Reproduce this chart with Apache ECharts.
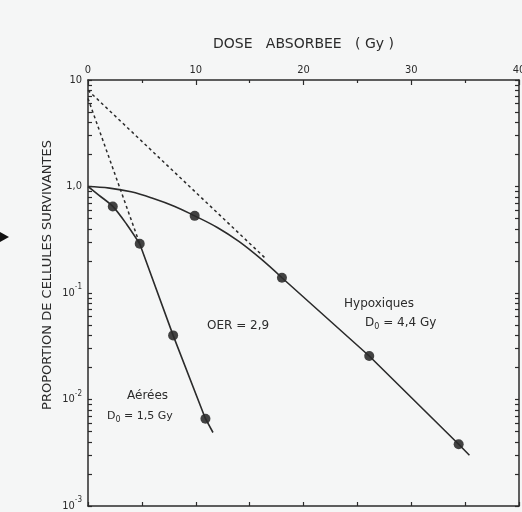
<!DOCTYPE html>
<html>
<head>
<meta charset="utf-8">
<script src="https://cdn.jsdelivr.net/npm/echarts@6/dist/echarts.min.js"></script>
<style>
  html, body { margin: 0; padding: 0; background: #f5f6f6; }
  #chart { width: 522px; height: 512px; }
</style>
</head>
<body>
<div id="chart"></div>
<script>
// points mesurés (cellules aérées)
const aereesDose = [2.3, 4.8, 7.9, 10.9]
const aereesSurvie = [0.65, 0.29, 0.04, 0.0066]
// points mesurés (cellules hypoxiques)
const hypoxDose = [9.9, 18.0, 26.1, 34.4]
const hypoxSurvie = [0.53, 0.139, 0.0256, 0.0038]

// courbes tracées: épaule puis partie droite
const aereesEpauleDose = [0, 1, 2.3, 3.6, 4.8]
const aereesEpauleSurvie = [1.0, 0.83, 0.65, 0.44, 0.29]
const aereesDroiteDose = [4.8, 7.9, 10.9, 11.6]
const aereesDroiteSurvie = [0.29, 0.04, 0.0066, 0.0049]
const hypoxEpauleDose = [0, 2, 4, 6, 8, 9.9, 12, 14, 16, 18]
const hypoxEpauleSurvie = [1.0, 0.966, 0.891, 0.776, 0.653, 0.53, 0.412, 0.305, 0.211, 0.139]
const hypoxDroiteDose = [18.0, 26.1, 34.4, 35.4]
const hypoxDroiteSurvie = [0.139, 0.0256, 0.0038, 0.003]

// extrapolations en pointillé
const aereesExtraDose = [0, 4.8]
const aereesExtraSurvie = [6.7, 0.29]
const hypoxExtraDose = [0, 16.5]
const hypoxExtraSurvie = [8.0, 0.21]

// graduations
const doseTicks = [0, 10, 20, 30, 40]
const survieDecades = [0.001, 0.01, 0.1, 1, 10]
const survieLabels = ['10{sup|-3}', '10{sup|-2}', '10{sup|-1}', '1,0', '10']
const survieMinor = [2, 3, 4, 5, 6, 7, 8, 9]

const zip = (xs, ys) => xs.map((x, i) => [x, ys[i]])

// toutes les graduations logarithmiques (décades + 2..9)
const logTicks = []
survieDecades.forEach(d => {
  logTicks.push(d)
  if (d < 10) survieMinor.forEach(m => logTicks.push(+(d * m).toPrecision(3)))
})

const ink = '#2b2b2b'
const font = "'DejaVu Sans', sans-serif"
const fontCond = "'DejaVu Sans Condensed', 'DejaVu Sans', sans-serif"

const chart = echarts.init(document.getElementById('chart'))

const courbe = (name, data, smooth) => ({
  name,
  type: 'line',
  data,
  symbol: 'none',
  smooth,
  lineStyle: { color: ink, width: 1.6 }
})

const pointille = (name, data) => ({
  name,
  type: 'line',
  data,
  symbol: 'none',
  lineStyle: { color: ink, width: 1.5, type: [3, 3] }
})

const option = {
  animation: false,
  backgroundColor: '#f5f6f6',
  textStyle: { fontFamily: font, color: ink },
  grid: { left: 88, right: 3, top: 80, bottom: 6, outerBoundsMode: 'none', containLabel: false },
  xAxis: [
    {
      type: 'value',
      position: 'top',
      min: doseTicks[0],
      max: doseTicks[doseTicks.length - 1],
      interval: 10,
      name: 'DOSE   ABSORBEE   ( Gy )',
      nameLocation: 'middle',
      nameGap: 29,
      nameTextStyle: { fontSize: 14, color: ink, fontFamily: font },
      axisLine: { onZero: false, lineStyle: { color: ink, width: 1.5 } },
      axisTick: { inside: true, length: 5, lineStyle: { color: ink, width: 1.2 } },
      minorTick: { show: true, splitNumber: 2, length: 3, lineStyle: { color: ink, width: 1.2 } },
      axisLabel: { fontSize: 11, margin: 4, color: ink, fontFamily: fontCond },
      splitLine: { show: false }
    },
    {
      type: 'value',
      position: 'bottom',
      min: 0,
      max: 40,
      interval: 5,
      axisLine: { onZero: false, lineStyle: { color: ink, width: 1.5 } },
      axisTick: { inside: true, length: 4, lineStyle: { color: ink, width: 1.2 } },
      axisLabel: { show: false },
      splitLine: { show: false }
    }
  ],
  yAxis: [
    {
      type: 'log',
      position: 'left',
      min: 0.001,
      max: 10,
      logBase: 10,
      axisLine: { onZero: false, lineStyle: { color: ink, width: 1.5 } },
      axisTick: { inside: true, length: 4, customValues: logTicks, lineStyle: { color: ink, width: 1.2 } },
      axisLabel: {
        customValues: survieDecades,
        margin: 6,
        fontSize: 11,
        lineHeight: 20,
        color: ink,
        fontFamily: fontCond,
        formatter: v => {
          const i = survieDecades.findIndex(d => Math.abs(Math.log10(d) - Math.log10(v)) < 0.01)
          return i >= 0 ? survieLabels[i] : ''
        },
        rich: {
          sup: { fontSize: 8, lineHeight: 8, verticalAlign: 'top', color: ink, fontFamily: fontCond }
        }
      },
      splitLine: { show: false }
    },
    {
      type: 'log',
      position: 'right',
      min: 0.001,
      max: 10,
      logBase: 10,
      axisLine: { onZero: false, lineStyle: { color: ink, width: 1.5 } },
      axisTick: { inside: true, length: 4, customValues: logTicks, lineStyle: { color: ink, width: 1.2 } },
      axisLabel: { show: false },
      splitLine: { show: false }
    }
  ],
  series: [
    courbe('Aérées épaule', zip(aereesEpauleDose, aereesEpauleSurvie), 0.3),
    courbe('Aérées', zip(aereesDroiteDose, aereesDroiteSurvie), false),
    courbe('Hypoxiques épaule', zip(hypoxEpauleDose, hypoxEpauleSurvie), 0.4),
    courbe('Hypoxiques', zip(hypoxDroiteDose, hypoxDroiteSurvie), false),
    pointille('Aérées extrapolation', zip(aereesExtraDose, aereesExtraSurvie)),
    pointille('Hypoxiques extrapolation', zip(hypoxExtraDose, hypoxExtraSurvie)),
    {
      name: 'Aérées points',
      type: 'scatter',
      data: zip(aereesDose, aereesSurvie),
      symbolSize: 10,
      itemStyle: { color: '#151515' }
    },
    {
      name: 'Hypoxiques points',
      type: 'scatter',
      data: zip(hypoxDose, hypoxSurvie),
      symbolSize: 10,
      itemStyle: { color: '#151515' }
    }
  ],
  graphic: [
    {
      type: 'polygon',
      shape: { points: [[0, 232], [9, 237], [0, 242]] },
      style: { fill: '#111' }
    },
    {
      type: 'text',
      x: 48,
      y: 275,
      rotation: Math.PI / 2,
      style: {
        text: 'PROPORTION DE CELLULES SURVIVANTES',
        font: '13px ' + font,
        fill: ink,
        align: 'center',
        verticalAlign: 'middle'
      }
    },
    {
      type: 'text',
      left: 207,
      top: 320,
      style: { text: 'OER = 2,9', font: '12px ' + font, fill: ink }
    },
    {
      type: 'text',
      left: 344,
      top: 298,
      style: { text: 'Hypoxiques', font: '12px ' + font, fill: ink }
    },
    {
      type: 'text',
      left: 365,
      top: 315,
      style: {
        text: 'D{sub|0} = 4,4 Gy',
        fill: ink,
        rich: {
          sub: { fontSize: 8, lineHeight: 8, verticalAlign: 'bottom', fontFamily: font, fill: ink }
        },
        font: '12px ' + font,
        lineHeight: 16
      }
    },
    {
      type: 'text',
      left: 127,
      top: 390,
      style: { text: 'Aérées', font: '12px ' + font, fill: ink }
    },
    {
      type: 'text',
      left: 107,
      top: 408,
      style: {
        text: 'D{sub|0} = 1,5 Gy',
        fill: ink,
        rich: {
          sub: { fontSize: 8, lineHeight: 8, verticalAlign: 'bottom', fontFamily: font, fill: ink }
        },
        font: '11px ' + font,
        lineHeight: 16
      }
    }
  ]
}

chart.setOption(option)
</script>
</body>
</html>
